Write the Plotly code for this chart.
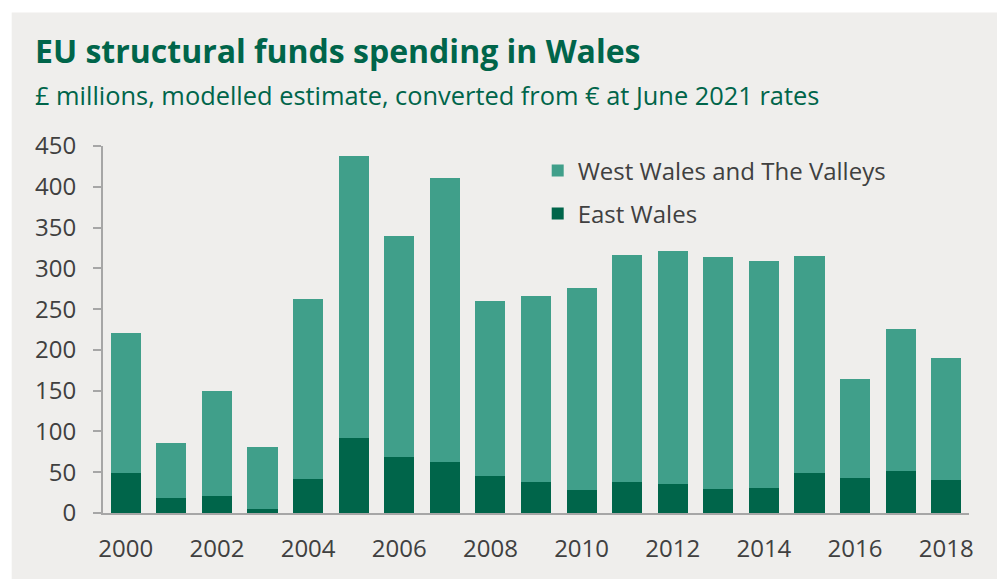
import plotly.graph_objects as go

years = list(range(2000, 2019))
total = [221, 86, 149.5, 81, 262, 438, 340, 411, 259.5, 266, 276.5, 316, 321.5, 314, 308.5, 315, 164.5, 226, 189.5]
east_wales = [49.5, 19, 20.5, 4.5, 42, 91.5, 69, 63, 45, 38.5, 28, 38.5, 35, 29.5, 31, 49.5, 42.5, 52, 40]
west_wales = [round(t - e, 1) for t, e in zip(total, east_wales)]

y_ticks = [0, 50, 100, 150, 200, 250, 300, 350, 400, 450]
x_ticks = [2000, 2002, 2004, 2006, 2008, 2010, 2012, 2014, 2016, 2018]

title_text = "<b>EU structural funds spending in Wales</b>"
subtitle_text = "£ millions, modelled estimate, converted from € at June 2021 rates"

DARK = "#00654A"
LIGHT = "#409F8A"
PANEL = "#EFEEEC"
TEXT = "#404040"

fig = go.Figure()
fig.add_trace(go.Bar(x=years, y=east_wales, name="East Wales", marker_color=DARK,
                     marker_line_width=0, legendgroup="e", legendrank=2))
fig.add_trace(go.Bar(x=years, y=west_wales, name="West Wales and The Valleys", marker_color=LIGHT,
                     marker_line_width=0, legendgroup="w", legendrank=1))

W, H = 997, 579
L, R, T, B = 103.3, 969.3, 145.7, 513.3
pw, ph = R - L, B - T

def px(x):
    return (x - L) / pw

def py(y):
    return (B - y) / ph

fig.update_layout(
    width=W, height=H,
    margin=dict(l=L, r=W - R, t=T, b=H - B, pad=0),
    barmode="stack", bargap=0.34,
    paper_bgcolor="white", plot_bgcolor=PANEL,
    font=dict(family="Open Sans", color=TEXT, size=24),
    showlegend=True,
    legend=dict(x=px(538), y=py(148), xanchor="left", yanchor="top",
                traceorder="grouped", tracegroupgap=9,
                bgcolor="rgba(0,0,0,0)", font=dict(size=24, color=TEXT)),
    shapes=[dict(type="rect", xref="paper", yref="paper", x0=px(12), x1=px(1010),
                 y0=py(600), y1=py(12), fillcolor=PANEL, line_width=0, layer="below")],
    annotations=[
        dict(text=title_text, xref="paper", yref="paper", x=px(33), y=py(50), xanchor="left",
             yanchor="middle", showarrow=False, font=dict(family="Open Sans", size=32, color=DARK)),
        dict(text=subtitle_text, xref="paper", yref="paper", x=px(33), y=py(95), xanchor="left",
             yanchor="middle", showarrow=False, font=dict(family="Open Sans", size=25.4, color=DARK)),
    ],
)
fig.update_xaxes(range=[1999.5, 2018.5], tickvals=x_ticks, ticktext=[str(v) for v in x_ticks],
                 showgrid=False, zeroline=False, showline=True, linecolor="#A6A6A6", linewidth=2,
                 ticks="", ticklabelstandoff=13, tickfont=dict(size=24, color=TEXT), fixedrange=True)
fig.update_yaxes(range=[0, 450], tickvals=y_ticks, showgrid=False, zeroline=False, showline=True,
                 linecolor="#A6A6A6", linewidth=2, ticks="outside", ticklen=8, tickwidth=2,
                 tickcolor="#A6A6A6", ticklabelstandoff=12, tickfont=dict(size=24, color=TEXT),
                 fixedrange=True)

fig.write_html("out.html", config={"displayModeBar": False})
